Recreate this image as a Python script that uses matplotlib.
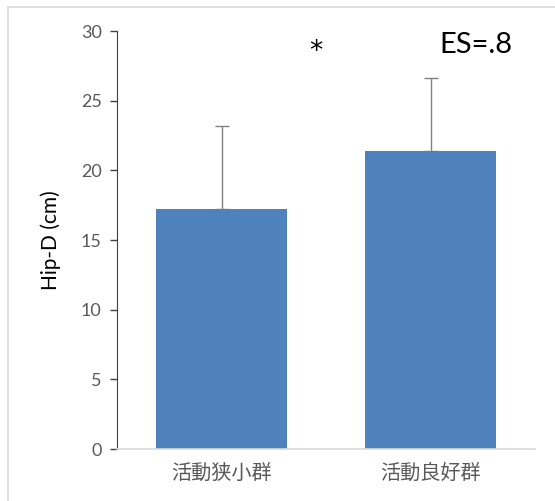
import matplotlib
matplotlib.use('Agg')
import matplotlib.pyplot as plt
import matplotlib.patches as mpatches

plt.rcParams['font.family'] = ['Lato', 'Noto Sans CJK JP', 'DejaVu Sans']

groups = ["活動狭小群", "活動良好群"]
means = [17.2, 21.4]
sds = [6.0, 5.2]
yticks = [0, 5, 10, 15, 20, 25, 30]

bar_color = "#4f81bd"
tick_gray = "#595959"

fig = plt.figure(figsize=(5.55, 5.01), dpi=100)
# light frame around the chart area, cut off at right/bottom like the source
fig.patches.append(mpatches.Rectangle((8 / 555, -0.05), 1.2, 1 - 7 / 501 + 0.05,
                                      transform=fig.transFigure, fill=False,
                                      edgecolor="#d9d9d9", linewidth=1.2))

ax = fig.add_axes([117 / 555, 1 - 449 / 501, 418 / 555, 418 / 501])
x = list(range(len(groups)))
ax.bar(x, means, width=0.63, color=bar_color, zorder=2)
ax.errorbar(x, means, yerr=[[0] * len(sds), sds], fmt="none",
            ecolor="#808080", elinewidth=1.0, capsize=5, capthick=1.0, zorder=1)

ax.set_xlim(-0.5, 1.5)
ax.set_ylim(0, 30)
ax.set_yticks(yticks)
ax.set_xticks(x)
ax.set_xticklabels(groups, fontsize=14.5, color=tick_gray)
ax.tick_params(axis="y", labelsize=13, colors=tick_gray, length=5, width=1,
               direction="out", color="#404040", pad=6)
ax.tick_params(axis="x", length=0, pad=10)

for s in ["top", "right"]:
    ax.spines[s].set_visible(False)
ax.spines["left"].set_color("#404040")
ax.spines["bottom"].set_color("#d9d9d9")
ax.spines["bottom"].set_linewidth(1.2)

ax.set_ylabel("Hip-D (cm)", fontsize=15, color="black", labelpad=14)

ax.text(0.45, 28.5, "*", fontsize=19, family="DejaVu Sans",
        ha="center", va="center", color="black")
ax.text(1.218, 29.0, "ES=.8", fontsize=21, ha="center", va="center", color="black")

plt.savefig("out.png", dpi=100)
